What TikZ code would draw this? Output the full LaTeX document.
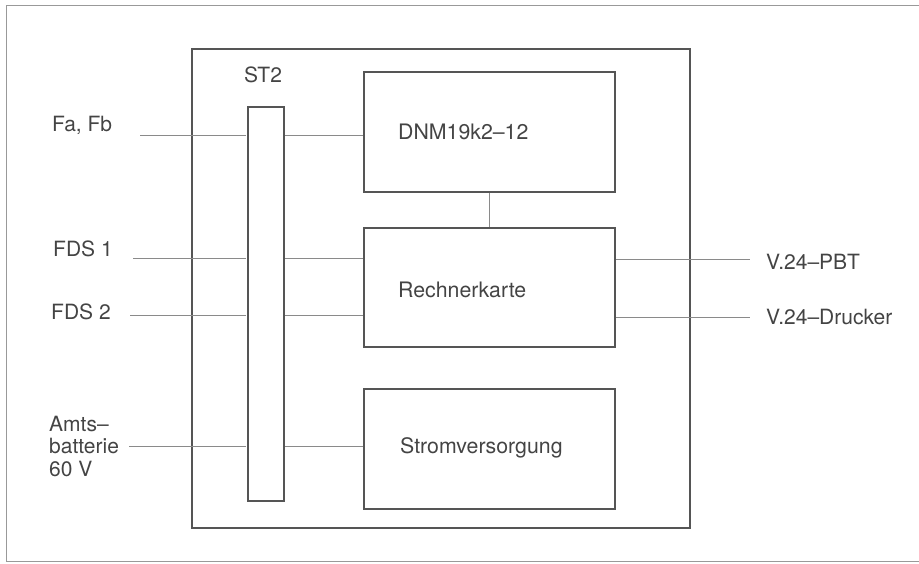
\documentclass[tikz,border=0pt]{standalone}
\usepackage{fontspec}
\setmainfont{TeX Gyre Heros}
\definecolor{boxc}{HTML}{555555}
\definecolor{linec}{HTML}{8A8A8A}
\definecolor{textc}{HTML}{444444}
\definecolor{framec}{HTML}{999999}
\begin{document}
\begin{tikzpicture}[x=1pt,y=-1pt,
  blk/.style={draw=boxc, line width=2pt, rectangle, inner sep=0pt},
  conn/.style={draw=linec, line width=0.9pt},
  lbl/.style={text=textc, font=\fontsize{21}{22.5}\selectfont, inner sep=0pt, anchor=west},
  btxt/.style={text=textc, font=\fontsize{21.3}{24}\selectfont, inner sep=0pt, anchor=west}]
\useasboundingbox (0,0) rectangle (919,563);
% page frame
\draw[framec, line width=0.9pt] (925,5) -- (6,5) -- (6,561) -- (925,561);
% main box
\node[blk, minimum width=498pt, minimum height=479pt] (main) at (441,288.5) {};
\node[blk, minimum width=36pt, minimum height=394pt] (st2) at (266,304) {};
\node[text=textc, font=\fontsize{21}{22.5}\selectfont, inner sep=0pt] (st2l) at (263,75) {ST2};
\node[blk, minimum width=251pt, minimum height=120pt] (dnm) at (489.5,132) {};
\node[blk, minimum width=251pt, minimum height=119pt] (rech) at (489.5,287.5) {};
\node[blk, minimum width=251pt, minimum height=120pt] (strom) at (489.5,449) {};
\node[btxt] (dnmt) at (398,132) {DNM19k2–12};
\node[btxt] (recht) at (398,290) {Rechnerkarte};
\node[btxt] (stromt) at (400,448) {Stromversorgung};
% left labels
\node[lbl] (fa) at (52,125) {Fa, Fb};
\node[lbl] (fds1) at (53,249) {FDS 1};
\node[lbl] (fds2) at (51,312) {FDS 2};
\node[lbl, align=left] (amts) at (49,446) {Amts–\\batterie\\60 V};
% right labels
\node[lbl] (pbt) at (766,262) {V.24–PBT};
\node[lbl] (dru) at (766,317) {V.24–Drucker};
% connector end points
\coordinate (cfa) at (140,135);
\coordinate (cf1) at (133,258);
\coordinate (cf2) at (130,315);
\coordinate (cam) at (129,446);
\coordinate (cpbt) at (750,259);
\coordinate (cdru) at (750,317);
% connectors
\draw[conn, shorten >=1.5pt] (cfa) -- (cfa -| st2.west);
\draw[conn] (st2.east |- cfa) -- (dnm.west |- cfa);
\draw[conn, shorten >=1.5pt] (cf1) -- (cf1 -| st2.west);
\draw[conn] (st2.east |- cf1) -- (rech.west |- cf1);
\draw[conn, shorten >=1.5pt] (cf2) -- (cf2 -| st2.west);
\draw[conn] (st2.east |- cf2) -- (rech.west |- cf2);
\draw[conn, shorten >=1.5pt] (cam) -- (cam -| st2.west);
\draw[conn] (st2.east |- cam) -- (strom.west |- cam);
\draw[conn] (dnm.south) -- (rech.north);
\draw[conn] (rech.east |- cpbt) -- (cpbt);
\draw[conn] (rech.east |- cdru) -- (cdru);
\end{tikzpicture}
\end{document}
